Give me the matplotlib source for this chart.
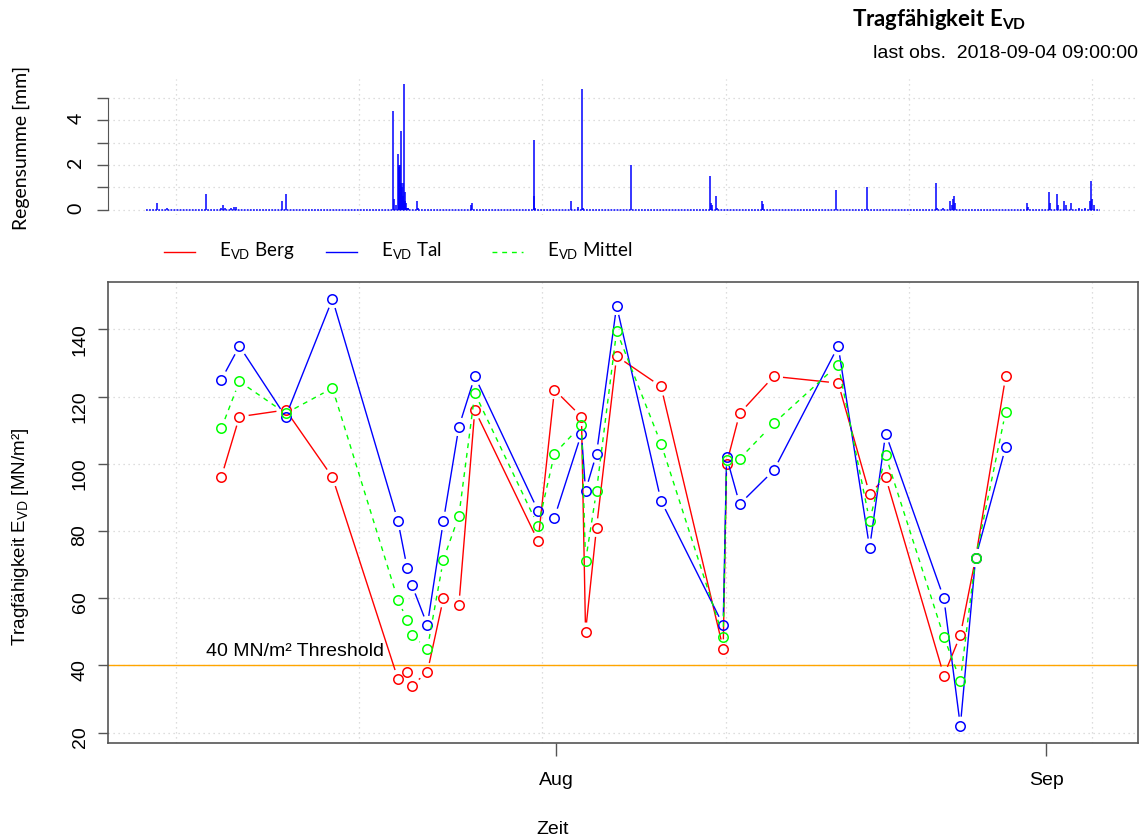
import numpy as np
import pandas as pd
import matplotlib
matplotlib.use("Agg")
import matplotlib.pyplot as plt
import matplotlib.dates as mdates
from matplotlib.lines import Line2D
from matplotlib.transforms import blended_transform_factory

plt.rcParams["font.family"] = ["Liberation Sans", "DejaVu Sans"]
plt.rcParams["mathtext.fontset"] = "custom"
plt.rcParams["mathtext.rm"] = "Lato"
plt.rcParams["mathtext.bf"] = "Lato:bold"

# hourly rain sums (only non-zero hours, plus first/last observation)
rain_times = [
    "2018-07-06 02:00", "2018-07-06 18:00", "2018-07-07 10:00", "2018-07-09 21:00",
    "2018-07-10 20:00", "2018-07-10 23:00", "2018-07-11 02:00", "2018-07-11 11:00",
    "2018-07-11 15:00", "2018-07-11 19:00", "2018-07-14 16:00", "2018-07-14 22:00",
    "2018-07-21 16:00", "2018-07-21 18:00", "2018-07-21 21:00", "2018-07-22 00:00",
    "2018-07-22 01:00", "2018-07-22 02:00", "2018-07-22 03:00", "2018-07-22 04:00",
    "2018-07-22 05:00", "2018-07-22 06:00", "2018-07-22 07:00", "2018-07-22 08:00",
    "2018-07-22 09:00", "2018-07-22 10:00", "2018-07-22 11:00", "2018-07-22 12:00",
    "2018-07-22 13:00", "2018-07-22 14:00", "2018-07-22 15:00", "2018-07-22 16:00",
    "2018-07-23 05:00", "2018-07-23 06:00", "2018-07-26 15:00", "2018-07-26 16:00",
    "2018-07-30 14:00", "2018-07-30 15:00", "2018-07-30 16:00", "2018-08-01 22:00",
    "2018-08-02 09:00", "2018-08-02 16:00", "2018-08-02 17:00", "2018-08-05 18:00",
    "2018-08-10 18:00", "2018-08-10 19:00", "2018-08-10 20:00", "2018-08-11 03:00",
    "2018-08-11 04:00", "2018-08-14 01:00", "2018-08-14 02:00", "2018-08-18 17:00",
    "2018-08-20 15:00", "2018-08-25 01:00", "2018-08-25 02:00", "2018-08-25 11:00",
    "2018-08-25 22:00", "2018-08-26 00:00", "2018-08-26 02:00", "2018-08-26 03:00",
    "2018-08-26 05:00", "2018-08-30 18:00", "2018-08-30 20:00", "2018-09-01 04:00",
    "2018-09-01 06:00", "2018-09-01 16:00", "2018-09-01 18:00", "2018-09-02 02:00",
    "2018-09-02 05:00", "2018-09-02 13:00", "2018-09-03 02:00", "2018-09-03 10:00",
    "2018-09-03 18:00", "2018-09-03 20:00", "2018-09-03 21:00", "2018-09-04 00:00",
    "2018-09-04 09:00",
]
rain_mm = [
    0.0, 0.3, 0.1, 0.7,
    0.1, 0.2, 0.1, 0.1,
    0.15, 0.15, 0.4, 0.7,
    4.4, 0.5, 0.2, 2.5,
    2.0, 1.9, 2.0, 1.2,
    3.5, 1.0, 1.2, 0.6,
    5.6, 0.4, 0.8, 0.3,
    0.1, 0.1, 0.1, 0.1,
    0.4, 0.1, 0.2, 0.3,
    0.6, 3.1, 0.1, 0.4,
    0.15, 5.4, 0.1, 2.0,
    1.5, 0.3, 0.2, 0.6,
    0.1, 0.4, 0.25, 0.9,
    1.0, 1.2, 0.1, 0.1,
    0.4, 0.2, 0.5, 0.6,
    0.3, 0.3, 0.15, 0.8,
    0.3, 0.7, 0.2, 0.4,
    0.2, 0.3, 0.1, 0.1,
    0.4, 1.3, 0.5, 0.2,
    0.0,
]

evd_times = [
    "2018-07-10 20:00", "2018-07-11 23:30", "2018-07-14 21:40", "2018-07-17 20:40",
    "2018-07-22 00:00", "2018-07-22 14:00", "2018-07-22 21:00", "2018-07-23 20:40",
    "2018-07-24 21:00", "2018-07-25 20:30", "2018-07-26 20:40", "2018-07-30 20:40",
    "2018-07-31 21:30", "2018-08-02 14:30", "2018-08-02 20:40", "2018-08-03 13:20",
    "2018-08-04 19:50", "2018-08-07 15:10", "2018-08-11 13:30", "2018-08-11 18:40",
    "2018-08-12 14:30", "2018-08-14 18:10", "2018-08-18 20:00", "2018-08-20 19:40",
    "2018-08-21 20:00", "2018-08-25 12:20", "2018-08-26 13:20", "2018-08-27 12:30",
    "2018-08-29 10:10",
]
evd_berg = [96, 114, 116, 96, 36, 38, 34, 38, 60, 58, 116, 77, 122, 114, 50, 81,
            132, 123, 45, 100, 115, 126, 124, 91, 96, 37, 49, 72, 126]
evd_tal = [125, 135, 114, 149, 83, 69, 64, 52, 83, 111, 126, 86, 84, 109, 92, 103,
           147, 89, 52, 102, 88, 98, 135, 75, 109, 60, 22, 72, 105]
evd_mittel = [110.5, 124.5, 115, 122.5, 59.5, 53.5, 49, 45, 71.5, 84.5, 121, 81.5,
              103, 111.5, 71, 92, 139.5, 106, 48.5, 101, 101.5, 112, 129.5, 83,
              102.5, 48.5, 35.5, 72, 115.5]
threshold = 40

W, H = 1146, 838
fig = plt.figure(figsize=(W / 100, H / 100), dpi=100)


def fig_box(x0, y0, x1, y1):
    return [x0 / W, 1 - y1 / H, (x1 - x0) / W, (y1 - y0) / H]


def draw_type_b(ax, t, v, color, ls, gap=10):
    # R type="b": open circles, connecting lines stop short of the points
    xy = np.column_stack([mdates.date2num(t), v])
    pts = ax.transData.transform(xy)
    inv = ax.transData.inverted()
    for p0, p1 in zip(pts[:-1], pts[1:]):
        d = p1 - p0
        n = np.hypot(*d)
        if n <= 2 * gap:
            continue
        seg = inv.transform(np.array([p0 + d / n * gap, p1 - d / n * gap]))
        ax.plot(seg[:, 0], seg[:, 1], color=color, ls=ls, lw=1)
    ax.plot(xy[:, 0], xy[:, 1], ls="none", marker="o", ms=6.8,
            mfc="none", mec=color, mew=1.1)


ax_rain = fig.add_axes(fig_box(108, 79, 1138, 215))
ax = fig.add_axes(fig_box(108, 282, 1138, 743))
ax_rain.xaxis_date()
ax.xaxis_date()

rt = pd.to_datetime(rain_times)
et = pd.to_datetime(evd_times)
t0, t1 = rt.min(), rt.max()
pad = (t1 - t0) * 0.04
xlim = (t0 - pad, t1 + pad)
ax_rain.set_xlim(xlim)
ax.set_xlim(xlim)

rmax = max(rain_mm)
ax_rain.set_ylim(-0.04 * rmax, 1.04 * rmax)
lo = min(evd_berg + evd_tal + evd_mittel)
hi = max(evd_berg + evd_tal + evd_mittel)
ax.set_ylim(lo - 0.04 * (hi - lo), hi + 0.04 * (hi - lo))

# vertical grid at round multiples of 1e6 seconds (as R's grid() on POSIXct)
s_lo = xlim[0].tz_localize("Europe/Berlin").timestamp()
s_hi = xlim[1].tz_localize("Europe/Berlin").timestamp()
grid_t = [pd.to_datetime(k * 1_000_000, unit="s", utc=True)
          .tz_convert("Europe/Berlin").tz_localize(None)
          for k in range(int(np.ceil(s_lo / 1e6)), int(np.floor(s_hi / 1e6)) + 1)]

grid_kw = dict(color="lightgray", ls=(0, (1, 3)), lw=0.9, zorder=0)
rain_ticks = list(range(6))
evd_ticks = list(range(20, 141, 20))
for a, yt in ((ax_rain, rain_ticks), (ax, evd_ticks)):
    for g in grid_t:
        a.axvline(g, **grid_kw)
    for y in yt:
        a.axhline(y, **grid_kw)

# rain panel
ax_rain.vlines(rt, 0, rain_mm, color="blue", lw=1.1)
ax_rain.plot([t0, t1], [0, 0], color="blue", lw=1.1, ls=(0, (1.2, 0.8)))
for s in ("top", "right", "bottom"):
    ax_rain.spines[s].set_visible(False)
ax_rain.spines["left"].set_bounds(0, 5)
ax_rain.spines["left"].set_color("#555555")
ax_rain.set_xticks([])
ax_rain.set_yticks(rain_ticks)
ax_rain.set_yticklabels([str(i) if i % 2 == 0 else "" for i in rain_ticks])
ax_rain.tick_params(axis="y", length=8, width=1, color="#555555", pad=9,
                    labelrotation=90, labelsize=14)
for lab in ax_rain.get_yticklabels():
    lab.set_fontfamily("Lato")

# EVD panel
ax.axhline(threshold, color="orange", lw=1, zorder=1)
draw_type_b(ax, et, evd_berg, "#ff0000", "-")
draw_type_b(ax, et, evd_tal, "#0000ff", "-")
draw_type_b(ax, et, evd_mittel, "#00ff00", (0, (3.5, 3.5)))

trans = blended_transform_factory(ax.transAxes, ax.transData)
ax.annotate(f"{threshold} MN/m² Threshold", xy=(0.095, threshold), xycoords=trans,
            xytext=(0, 4), textcoords="offset points", va="bottom", fontsize=14)

ax.xaxis.set_major_locator(mdates.MonthLocator())
ax.xaxis.set_major_formatter(mdates.DateFormatter("%b"))
ax.set_yticks(evd_ticks)
ax.tick_params(axis="x", length=9, width=1, color="#555555", pad=12, labelsize=14)
ax.tick_params(axis="y", length=7, width=1, color="#555555", pad=7,
               labelrotation=90, labelsize=14)
for s in ax.spines.values():
    s.set_color("#555555")
    s.set_linewidth(1.2)

# legend
leg_items = [
    (r"E$_{\mathrm{VD}}$ Berg", "#ff0000", "-", 164),
    (r"E$_{\mathrm{VD}}$ Tal", "#0000ff", "-", 326),
    (r"E$_{\mathrm{VD}}$ Mittel", "#00ff00", (0, (3.5, 3.5)), 492),
]
for label, color, ls, x0 in leg_items:
    fig.add_artist(Line2D([x0 / W, (x0 + 31) / W], [1 - 252 / H] * 2,
                          transform=fig.transFigure, color=color, ls=ls, lw=1))
    fig.text((x0 + 55) / W, 1 - 251 / H, label, ha="left", va="center",
             family="Lato", fontsize=13.5)

# labels and titles
fig.text(21 / W, 1 - 148 / H, "Regensumme [mm]", rotation=90, ha="center",
         va="center", family="Lato", fontsize=14)
fig.text(21 / W, 1 - 537 / H, r"Tragfähigkeit E$_{\mathrm{VD}}$ [MN/m²]",
         rotation=90, ha="center", va="center", fontsize=13.5)
fig.text(553 / W, 1 - 829 / H, "Zeit", ha="center", va="center", fontsize=14)
fig.text(852 / W, 1 - 20 / H, r"Tragfähigkeit E$_{\mathbf{VD}}$", ha="left",
         va="center", family="Lato", weight="bold", fontsize=16)
fig.text(1138 / W, 1 - 54 / H, f"last obs.  {t1:%Y-%m-%d %H:%M:%S}", ha="right",
         va="center", fontsize=14)

fig.savefig("out.png", dpi=100)
